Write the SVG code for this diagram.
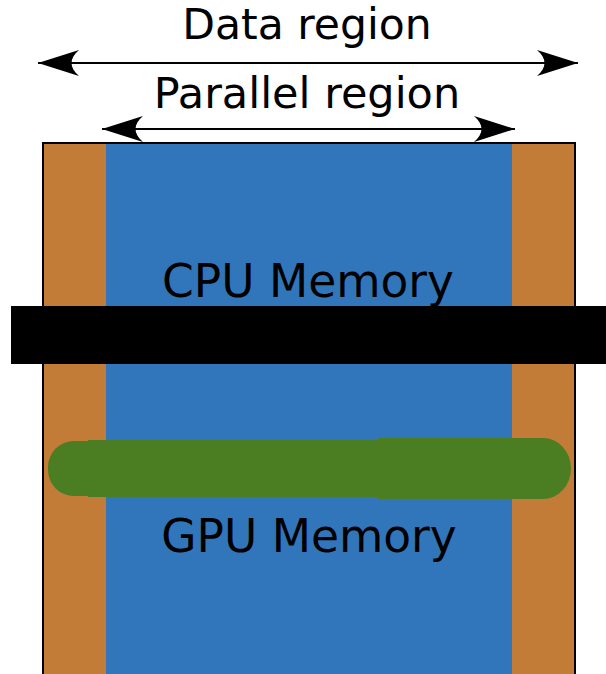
<svg xmlns="http://www.w3.org/2000/svg" width="606" height="674" viewBox="0 0 606 674">
  <style>
    .lbl { font-family: "DejaVu Sans", "Liberation Sans", sans-serif; fill: #000; text-anchor: middle; }
    .arrow { stroke: #000; stroke-width: 2; fill: none; marker-start: url(#ah); marker-end: url(#ah); }
    .brown { fill: #c27c38; }
    .blue { fill: #3176ba; }
    .green { fill: #4b7d22; }
  </style>
  <defs>
    <marker id="ah" markerUnits="userSpaceOnUse" viewBox="-44 -15 46 30" refX="0" refY="0" markerWidth="46" markerHeight="30" orient="auto-start-reverse">
      <path d="M0,0 L-41,-13 C-31,-4 -31,4 -41,13 Z" fill="#000"/>
    </marker>
  </defs>
  <rect width="606" height="674" fill="#fff"/>

  <g id="memory-box">
    <rect x="43" y="143" width="532" height="540" class="brown" stroke="#000" stroke-width="2"/>
    <rect x="106" y="144" width="406" height="540" class="blue"/>
  </g>

  <g id="cpu-memory">
    <text x="308" y="297" class="lbl" font-size="45.5">CPU Memory</text>
  </g>

  <g id="black-bar">
    <rect x="11" y="306" width="595" height="58" fill="#000"/>
  </g>

  <g id="green-bar">
    <rect x="48" y="441" width="70" height="55" rx="26" ry="26" class="green"/>
    <rect x="88" y="440" width="292" height="57" class="green"/>
    <path d="M378,438 L543,438 A28,30.5 0 0 1 543,499 L378,499 Z" class="green"/>
  </g>

  <g id="gpu-memory">
    <text x="309" y="552" class="lbl" font-size="45.5">GPU Memory</text>
  </g>

  <g id="data-region">
    <text x="307" y="39" class="lbl" font-size="42.5">Data region</text>
  </g>

  <g id="parallel-region">
    <text x="307" y="108" class="lbl" font-size="43">Parallel region</text>
  </g>

  <g id="connectors">
    <line x1="38" y1="63" x2="578" y2="63" class="arrow"/>
    <line x1="102" y1="129" x2="515" y2="129" class="arrow"/>
  </g>
</svg>
